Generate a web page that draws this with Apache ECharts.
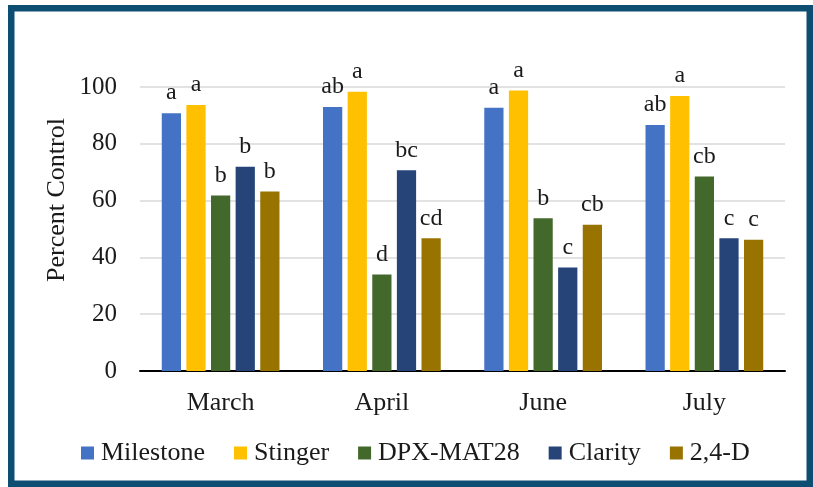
<!DOCTYPE html>
<html>
<head>
<meta charset="utf-8">
<script src="https://cdn.jsdelivr.net/npm/echarts@6/dist/echarts.min.js"></script>
<style>
html,body{margin:0;padding:0;background:#fff;}
#chart{width:813px;height:487px;}
</style>
</head>
<body>
<div id="chart"></div>
<script>
var categories = ['March', 'April', 'June', 'July'];
var seriesNames = ['Milestone', 'Stinger', 'DPX-MAT28', 'Clarity', '2,4-D'];
var milestone = [90.8, 93.0, 92.7, 86.6];
var stinger = [93.7, 98.3, 98.8, 96.8];
var dpx = [61.8, 34.0, 53.8, 68.5];
var clarity = [71.9, 70.7, 36.4, 46.7];
var d24 = [63.2, 46.7, 51.5, 46.2];
var milestoneLetters = ['a', 'ab', 'a', 'ab'];
var stingerLetters = ['a', 'a', 'a', 'a'];
var dpxLetters = ['b', 'd', 'b', 'cb'];
var clarityLetters = ['b', 'bc', 'c', 'c'];
var d24Letters = ['b', 'cd', 'cb', 'c'];
var yTicks = [0, 20, 40, 60, 80, 100];

var colors = ['#4472C4', '#FFC000', '#43682B', '#264478', '#997300'];
var values = [milestone, stinger, dpx, clarity, d24];
var letters = [milestoneLetters, stingerLetters, dpxLetters, clarityLetters, d24Letters];
var FONT = "'Liberation Serif', 'Times New Roman', serif";

var chart = echarts.init(document.getElementById('chart'), null, {renderer: 'canvas'});
var series = seriesNames.map(function (name, i) {
  return {
    name: name,
    type: 'bar',
    data: values[i],
    itemStyle: {color: colors[i]},
    barGap: '28%',
    barCategoryGap: '27%',
    label: {
      show: true,
      position: 'top',
      distance: 8,
      fontFamily: FONT,
      fontSize: 24,
      color: '#1a1a1a',
      formatter: function (p) { return letters[i][p.dataIndex]; }
    }
  };
});

chart.setOption({
  backgroundColor: '#ffffff',
  animation: false,
  grid: {left: 140, right: 28, top: 87, bottom: 116, containLabel: false},
  legend: {
    data: seriesNames,
    left: 81,
    top: 440,
    padding: 0,
    itemWidth: 13,
    itemHeight: 13,
    itemGap: 29,
    icon: 'rect',
    textStyle: {fontFamily: FONT, fontSize: 26, color: '#1a1a1a', padding: [0, 0, 0, 2]}
  },
  xAxis: {
    type: 'category',
    data: categories,
    axisLine: {lineStyle: {color: '#000', width: 2}},
    axisTick: {show: false},
    axisLabel: {fontFamily: FONT, fontSize: 26, color: '#1a1a1a', margin: 19}
  },
  yAxis: {
    type: 'value',
    min: yTicks[0],
    max: yTicks[yTicks.length - 1],
    interval: 20,
    axisLine: {show: false},
    axisTick: {show: false},
    splitLine: {lineStyle: {color: '#d9d9d9', width: 1.5}},
    axisLabel: {fontFamily: FONT, fontSize: 25, color: '#1a1a1a', margin: 23}
  },
  graphic: [
    {
      type: 'rect',
      shape: {x: 11.25, y: 8.25, width: 798.5, height: 475.5},
      style: {fill: 'none', stroke: '#0d4e72', lineWidth: 6.5},
      z: 100
    },
    {
      type: 'text',
      x: 57,
      y: 200,
      rotation: Math.PI / 2,
      style: {
        text: 'Percent Control',
        fontFamily: FONT,
        fontSize: 26,
        fill: '#1a1a1a',
        textAlign: 'center',
        textVerticalAlign: 'middle'
      }
    }
  ],
  series: series
});
</script>
</body>
</html>
